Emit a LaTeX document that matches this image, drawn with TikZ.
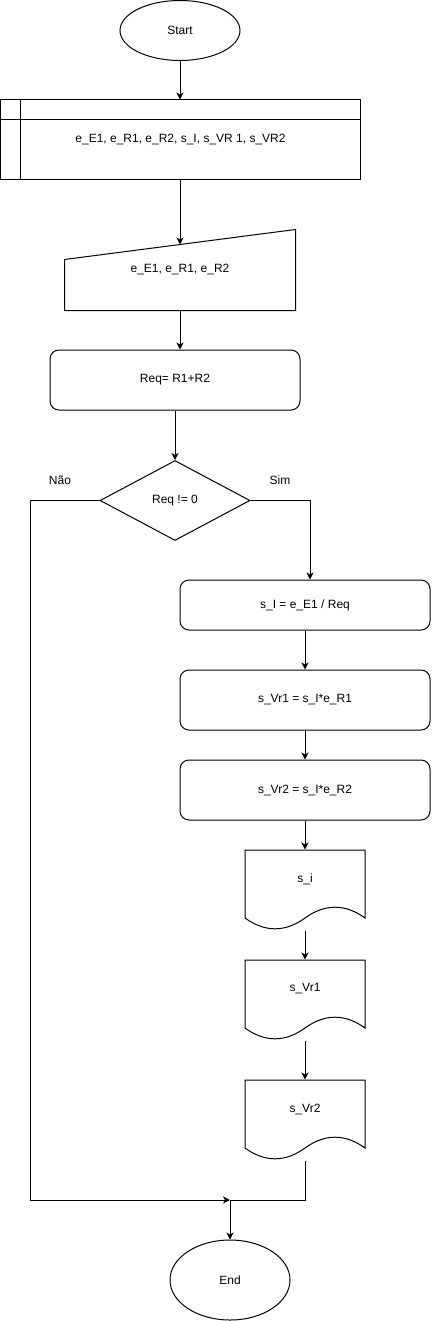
\documentclass[tikz,border=0pt]{standalone}
\usepackage{fontspec}
\setmainfont{Liberation Sans}
\usetikzlibrary{shapes.geometric,arrows.meta,calc}
\begin{document}
\begin{tikzpicture}[x=1pt,y=-1pt,
  font=\fontsize{12}{14}\selectfont,
  line width=1pt,
  arr/.style={-{Stealth[length=7pt,width=7pt,inset=2pt]}},
  term/.style={ellipse, draw, minimum width=120, minimum height=60, inner sep=0},
  proc/.style={rectangle, draw, rounded corners=9, minimum width=250, minimum height=60, inner sep=0},
  docbox/.style={minimum width=120, minimum height=80, inner sep=0},
  plain/.style={inner sep=0}]
\useasboundingbox (0,0) rectangle (431,1321);

% nodes
\node[term] (start) at (180,30.5) {Start};
\node[draw, minimum width=360, minimum height=80, inner sep=0] (store) at (180.5,140) {e\_E1, e\_R1, e\_R2, s\_I, s\_VR 1, s\_VR2};
\draw ($(store.north west)+(20,0)$) -- ($(store.south west)+(20,0)$);
\draw ($(store.north west)+(0,20)$) -- ($(store.north east)+(0,20)$);

\node[minimum width=230, minimum height=80, inner sep=0] (inp) at (180,270) {e\_E1, e\_R1, e\_R2};
\draw (inp.south west) -- (inp.south east) -- (inp.north east) -- ($(inp.north west)+(0,30)$) -- cycle;
\coordinate (inptop) at ($(inp.north)+(0,15)$);

\node[proc] (req) at (175,380) {Req= R1+R2};
\node[diamond, draw, minimum width=150, minimum height=80, inner sep=0] (dec) at (175,500.5) {Req != 0};
\node[plain] (nao) at (60,480) {Não};
\node[plain] (sim) at (280,480) {Sim};

\node[proc, minimum height=50] (si) at (305,605) {s\_I = e\_E1 / Req};
\coordinate (sitop) at ($(si.north)+(5,0)$);
\node[proc] (vr1) at (305,700) {s\_Vr1 = s\_I*e\_R1};
\node[proc] (vr2) at (305,790) {s\_Vr2 = s\_I*e\_R2};

\node[docbox, label={[yshift=11pt]center:s\_i}] (d1) at (305,890) {};
\node[docbox, label={[yshift=11pt]center:s\_Vr1}] (d2) at (305,1000) {};
\node[docbox, label={[yshift=11pt]center:s\_Vr2}] (d3) at (305,1120) {};
\foreach \d in {d1,d2,d3}{
  \draw[shift={(\d.center)}] (-60,-40) -- (60,-40) -- (60,28)
    .. controls (40,13.6) and (20,13.6) .. (0,28)
    .. controls (-20,42.4) and (-40,42.4) .. (-60,28) -- cycle;
}

\node[term, minimum height=80] (end) at (230,1280) {End};
\coordinate (m) at (230,1200);

% connectors
\draw[arr] (start.south) -- (store.north -| start.south);
\draw[arr] (store.south -| start.south) -- (inptop);
\draw[arr] (inp.south) -- (inp.south |- req.north);
\draw[arr] (req.south) -- (dec.north);
\draw[arr] (dec.east) -| (sitop);
\draw[arr] (si.south) -- (vr1.north);
\draw[arr] (vr1.south) -- (vr2.north);
\draw[arr] (vr2.south) -- (d1.north);
\draw[arr] (d1.south) -- (d2.north);
\draw[arr] (d2.south) -- (d3.north);
\draw[arr] (dec.west) -- (30,500.5) |- (m);
\draw (d3.south) |- (m);
\draw[arr] (m) -- (end.north);
\end{tikzpicture}
\end{document}
